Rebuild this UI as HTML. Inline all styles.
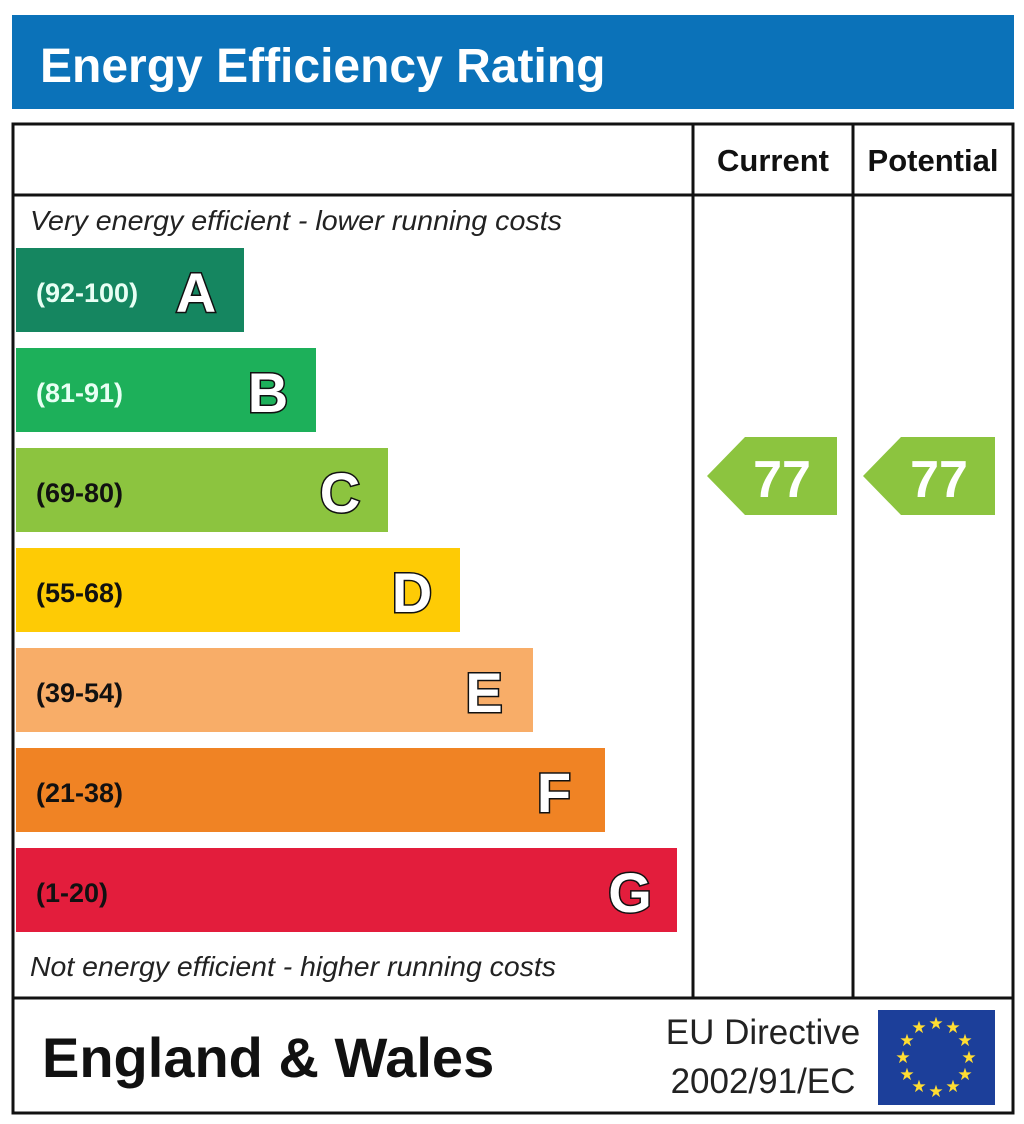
<!DOCTYPE html><html><head><style>body{margin:0;background:#fff}svg{display:block}</style></head><body>
<svg width="1024" height="1124" viewBox="0 0 1024 1124" xmlns="http://www.w3.org/2000/svg" font-family="Liberation Sans, sans-serif">
<rect x="12" y="15" width="1002" height="94" fill="#0b72b9"/>
<text x="40" y="82" font-size="48" font-weight="bold" fill="#fff">Energy Efficiency Rating</text>
<rect x="13" y="124" width="1000" height="989" fill="none" stroke="#111" stroke-width="3"/>
<line x1="13" y1="195" x2="1013" y2="195" stroke="#111" stroke-width="3"/>
<line x1="13" y1="998" x2="1013" y2="998" stroke="#111" stroke-width="3"/>
<line x1="693" y1="124" x2="693" y2="998" stroke="#111" stroke-width="3"/>
<line x1="853" y1="124" x2="853" y2="998" stroke="#111" stroke-width="3"/>
<text x="773" y="171" font-size="31" font-weight="bold" text-anchor="middle" fill="#111">Current</text>
<text x="933" y="171" font-size="31" font-weight="bold" text-anchor="middle" fill="#111">Potential</text>
<text x="30" y="230" font-size="28" font-style="italic" fill="#222" textLength="532" lengthAdjust="spacingAndGlyphs">Very energy efficient - lower running costs</text>
<text x="30" y="976" font-size="28" font-style="italic" fill="#222" textLength="526" lengthAdjust="spacingAndGlyphs">Not energy efficient - higher running costs</text>
<g font-weight="bold">
<rect x="16" y="248" width="228" height="84" fill="#158660"/>
<text x="36" y="302" font-size="27" fill="#e8fff4">(92-100)</text>
<text x="196" y="312" font-size="56" text-anchor="middle" fill="#fff" stroke="#111" stroke-width="3" paint-order="stroke">A</text>
<rect x="16" y="348" width="300" height="84" fill="#1db05a"/>
<text x="36" y="402" font-size="27" fill="#e8fff4">(81-91)</text>
<text x="268" y="412" font-size="56" text-anchor="middle" fill="#fff" stroke="#111" stroke-width="3" paint-order="stroke">B</text>
<rect x="16" y="448" width="372" height="84" fill="#8cc43f"/>
<text x="36" y="502" font-size="27" fill="#111">(69-80)</text>
<text x="340" y="512" font-size="56" text-anchor="middle" fill="#fff" stroke="#111" stroke-width="3" paint-order="stroke">C</text>
<rect x="16" y="548" width="444" height="84" fill="#fecb05"/>
<text x="36" y="602" font-size="27" fill="#111">(55-68)</text>
<text x="412" y="612" font-size="56" text-anchor="middle" fill="#fff" stroke="#111" stroke-width="3" paint-order="stroke">D</text>
<rect x="16" y="648" width="517" height="84" fill="#f8ad68"/>
<text x="36" y="702" font-size="27" fill="#111">(39-54)</text>
<text x="484" y="712" font-size="56" text-anchor="middle" fill="#fff" stroke="#111" stroke-width="3" paint-order="stroke">E</text>
<rect x="16" y="748" width="589" height="84" fill="#f08324"/>
<text x="36" y="802" font-size="27" fill="#111">(21-38)</text>
<text x="554" y="812" font-size="56" text-anchor="middle" fill="#fff" stroke="#111" stroke-width="3" paint-order="stroke">F</text>
<rect x="16" y="848" width="661" height="84" fill="#e31d3c"/>
<text x="36" y="902" font-size="27" fill="#111">(1-20)</text>
<text x="630" y="912" font-size="56" text-anchor="middle" fill="#fff" stroke="#111" stroke-width="3" paint-order="stroke">G</text>
<polygon points="707,476 745,437 837,437 837,515 745,515" fill="#8cc43f"/>
<text x="782" y="497" font-size="52" text-anchor="middle" fill="#fff">77</text>
<polygon points="863,476 901,437 995,437 995,515 901,515" fill="#8cc43f"/>
<text x="939" y="497" font-size="52" text-anchor="middle" fill="#fff">77</text>
<text x="42" y="1077" font-size="56" fill="#111">England &amp; Wales</text>
</g>
<text x="763" y="1044" font-size="35" text-anchor="middle" fill="#222">EU Directive</text>
<text x="763" y="1093" font-size="35" text-anchor="middle" fill="#222">2002/91/EC</text>
<rect x="878" y="1010" width="117" height="95" fill="#1c3f9a"/>
<g fill="#ffdd33" font-size="17" text-anchor="middle">
<text x="936" y="1029">★</text><text x="953" y="1033">★</text><text x="965" y="1046">★</text><text x="969" y="1063">★</text><text x="965" y="1080">★</text><text x="953" y="1092">★</text><text x="936" y="1097">★</text><text x="919" y="1092">★</text><text x="907" y="1080">★</text><text x="903" y="1063">★</text><text x="907" y="1046">★</text><text x="919" y="1033">★</text>
</g>
</svg>
</body></html>
